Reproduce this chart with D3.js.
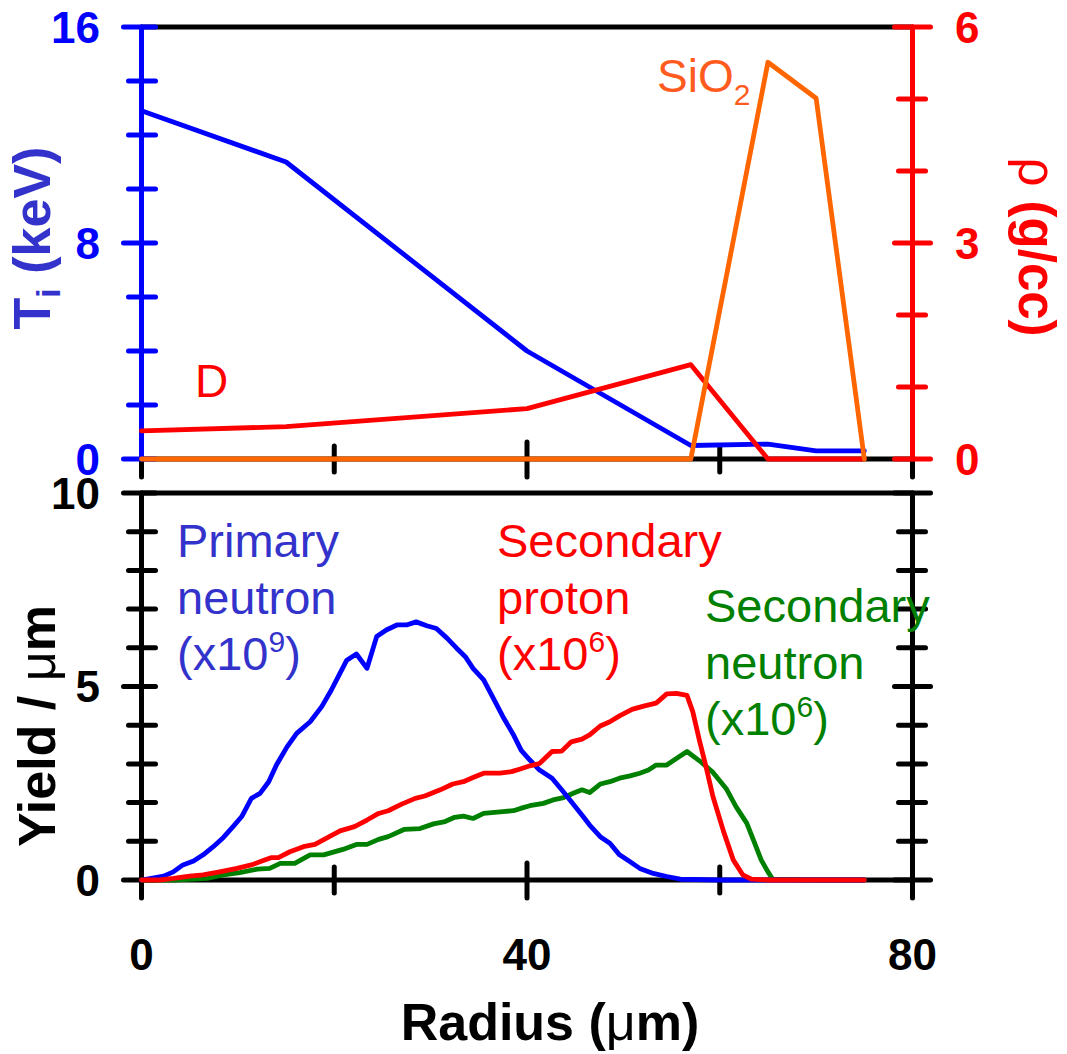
<!DOCTYPE html>
<html>
<head>
<meta charset="utf-8">
<script src="https://cdn.jsdelivr.net/npm/d3@7"></script>
<style>
  html, body { margin: 0; padding: 0; background: #fff; }
  svg { display: block; font-family: "Liberation Sans", Arial, sans-serif; }
</style>
</head>
<body>
<svg id="chart" width="1067" height="1054"></svg>
<script>
// ---------------- DATA ----------------
// Top panel: ion temperature (keV) and density (g/cc)
const tiRadius   = [0, 15, 40, 57, 65, 70, 75];
const tiValues   = [12.9, 11.0, 4.0, 0.5, 0.55, 0.3, 0.3];
const dRadius    = [0, 15, 40, 57, 65, 75];
const dDensity   = [0.39, 0.45, 0.70, 1.31, 0, 0];
const sio2Radius = [0, 57, 65, 70, 75];
const sio2Density= [0, 0, 5.51, 5.01, 0];

// Bottom panel: yields per micron
const primaryRadius = [0, 2.3, 3.3, 4.3, 5.4, 6.4, 7.45, 8.5, 9.5, 10.4, 11.4, 12.3, 13.2, 14.0, 15.1, 16.1, 17.5, 18.7, 19.7, 20.4, 21.3, 22.3, 23.4, 24.4, 25.4, 26.5, 27.5, 28.5, 29.6, 30.6, 31.7, 32.7, 33.6, 34.4, 35.5, 36.5, 37.5, 38.6, 39.4, 40.3, 41.3, 42.6, 43.6, 44.6, 45.7, 46.5, 47.6, 48.6, 49.6, 50.7, 51.7, 53.1, 54.5, 55.9, 60, 65, 70, 75];
const primaryYield  = [0, 0.1, 0.21, 0.39, 0.49, 0.65, 0.86, 1.10, 1.38, 1.64, 2.11, 2.24, 2.54, 2.97, 3.44, 3.79, 4.09, 4.48, 4.91, 5.25, 5.68, 5.84, 5.47, 6.29, 6.46, 6.59, 6.59, 6.67, 6.57, 6.50, 6.25, 5.99, 5.77, 5.47, 5.17, 4.70, 4.22, 3.75, 3.35, 3.10, 2.84, 2.63, 2.33, 2.02, 1.68, 1.42, 1.12, 0.95, 0.65, 0.47, 0.30, 0.17, 0.09, 0.02, 0, 0, 0, 0];

const protonRadius = [0, 1.9, 3.3, 5.0, 6.4, 8.1, 9.9, 11.4, 12.5, 13.5, 14.2, 15.4, 16.8, 18.0, 19.2, 20.6, 22.1, 23.4, 24.6, 25.6, 27.0, 28.4, 29.4, 31.0, 32.3, 33.4, 34.4, 35.5, 37.2, 38.4, 39.3, 40.3, 41.3, 42.6, 43.6, 44.6, 45.7, 46.5, 47.6, 48.6, 49.6, 50.9, 52.2, 53.4, 54.5, 55.5, 56.6, 57.2, 57.9, 58.6, 59.3, 60.4, 61.4, 62.4, 63.3, 65, 70, 75];
const protonYield  = [0, 0, 0.04, 0.10, 0.13, 0.21, 0.30, 0.39, 0.49, 0.58, 0.58, 0.73, 0.86, 0.92, 1.08, 1.27, 1.38, 1.55, 1.72, 1.79, 1.96, 2.11, 2.17, 2.33, 2.48, 2.54, 2.65, 2.76, 2.76, 2.80, 2.87, 2.95, 3.01, 3.32, 3.33, 3.57, 3.64, 3.75, 3.98, 4.09, 4.24, 4.41, 4.50, 4.57, 4.81, 4.82, 4.77, 4.35, 3.60, 2.90, 2.15, 1.25, 0.52, 0.13, 0.02, 0, 0, 0];

const sneutronRadius = [0, 3.3, 6.8, 8.5, 10.2, 12.0, 13.3, 14.4, 15.9, 17.5, 18.9, 20.9, 22.3, 23.4, 24.6, 25.6, 27.3, 28.9, 30.3, 31.5, 32.5, 33.4, 34.4, 35.5, 37.2, 38.6, 39.6, 40.3, 41.7, 42.7, 43.8, 44.8, 45.7, 46.5, 47.6, 48.6, 49.6, 50.7, 51.7, 52.6, 53.4, 54.5, 55.5, 56.6, 57.9, 59.3, 60.7, 61.7, 62.8, 63.5, 64.3, 65.0, 65.5, 70, 75];
const sneutronYield  = [0, 0, 0.04, 0.13, 0.19, 0.28, 0.30, 0.43, 0.43, 0.65, 0.65, 0.79, 0.92, 0.92, 1.05, 1.12, 1.31, 1.33, 1.45, 1.51, 1.62, 1.65, 1.59, 1.72, 1.76, 1.79, 1.87, 1.92, 1.98, 2.07, 2.13, 2.24, 2.33, 2.26, 2.48, 2.54, 2.63, 2.69, 2.76, 2.84, 2.97, 2.97, 3.14, 3.32, 3.08, 2.78, 2.35, 1.89, 1.47, 1.03, 0.52, 0.21, 0.02, 0, 0];

// Ticks and labels
const xTicks      = [0, 20, 40, 60, 80];
const xTickLabels = [0, 40, 80];
const tiTicks     = [0, 2, 4, 6, 8, 10, 12, 14, 16];
const tiTickLabels= [0, 8, 16];
const rhoTicks    = [0, 1, 2, 3, 4, 5, 6];
const rhoTickLabels = [0, 3, 6];
const yieldTicks  = [0, 1, 2, 3, 4, 5, 6, 7, 8, 9, 10];
const yieldTickLabels = [0, 5, 10];

// ---------------- DRAW ----------------
const svg = d3.select("#chart");
const BLUE = "#0000ff", RED = "#ff0000", ORANGE = "#ff6600", GREEN = "#008000";
const TXTBLUE = "#3333cc";

const x   = d3.scaleLinear().domain([0, 80]).range([141.5, 912.5]);
const yT  = d3.scaleLinear().domain([0, 16]).range([459, 27]);
const yR  = d3.scaleLinear().domain([0, 6]).range([459, 27]);
const yB  = d3.scaleLinear().domain([0, 10]).range([880, 493]);

const AXW = 5;

function hline(g, x1, x2, y, c) {
  g.append("line").attr("x1", x1).attr("x2", x2).attr("y1", y).attr("y2", y)
    .attr("stroke", c).attr("stroke-width", AXW).attr("stroke-linecap", "round");
}
function vline(g, x0, y1, y2, c) {
  g.append("line").attr("x1", x0).attr("x2", x0).attr("y1", y1).attr("y2", y2)
    .attr("stroke", c).attr("stroke-width", AXW).attr("stroke-linecap", "round");
}

function xTickMarks(g, y0) {
  xTicks.forEach(t => {
    const major = xTickLabels.includes(t);
    const up = major ? 17 : 13, dn = major ? 18 : 13;
    vline(g, x(t), y0 - up, y0 + dn, "#000");
  });
}
function yTickMarks(g, scale, ticks, labels, x0, side, color) {
  ticks.forEach(t => {
    const major = labels.includes(t);
    const a = major ? 18 : 13, b = 14;
    const yy = scale(t);
    if (side === "left") hline(g, x0 - a, x0 + b, yy, color);
    else hline(g, x0 - b - (major ? 4 : 0), x0 + a, yy, color);
  });
}

const gAx = svg.append("g");

// ---- Top panel frame ----
hline(gAx, x(0), x(80), yT(16), "#000");
hline(gAx, x(0), x(80), yT(0), "#000");
xTickMarks(gAx, yT(0));
vline(gAx, x(0), yT(16), yT(0), BLUE);
yTickMarks(gAx, yT, tiTicks, tiTickLabels, x(0), "left", BLUE);
vline(gAx, x(80), yR(6), yR(0), RED);
yTickMarks(gAx, yR, rhoTicks, rhoTickLabels, x(80), "right", RED);

// ---- Bottom panel frame ----
hline(gAx, x(0), x(80), yB(10), "#000");
hline(gAx, x(0), x(80), yB(0), "#000");
xTickMarks(gAx, yB(0));
vline(gAx, x(0), yB(10), yB(0), "#000");
yTickMarks(gAx, yB, yieldTicks, yieldTickLabels, x(0), "left", "#000");
vline(gAx, x(80), yB(10), yB(0), "#000");
yTickMarks(gAx, yB, yieldTicks, yieldTickLabels, x(80), "right", "#000");

// ---- Tick labels ----
const gTxt = svg.append("g").attr("font-weight", "bold").attr("font-size", 44);
tiTickLabels.forEach(t => gTxt.append("text").attr("x", 100).attr("y", yT(t)).attr("dy", "0.36em")
  .attr("text-anchor", "end").attr("fill", BLUE).text(t));
rhoTickLabels.forEach(t => gTxt.append("text").attr("x", 955).attr("y", yR(t)).attr("dy", "0.36em")
  .attr("text-anchor", "start").attr("fill", RED).text(t));
yieldTickLabels.forEach(t => gTxt.append("text").attr("x", 100).attr("y", yB(t)).attr("dy", "0.36em")
  .attr("text-anchor", "end").attr("fill", "#000").text(t));
xTickLabels.forEach(t => gTxt.append("text").attr("x", x(t)).attr("y", 970)
  .attr("text-anchor", "middle").attr("fill", "#000").text(t));

// ---- Axis titles ----
const tiLab = svg.append("text").attr("transform", "translate(50,238) rotate(-90)")
  .attr("text-anchor", "middle").attr("font-size", 52).attr("font-weight", "bold").attr("fill", TXTBLUE);
tiLab.append("tspan").text("T");
tiLab.append("tspan").attr("font-size", 34).attr("dy", 10).text("i");
tiLab.append("tspan").attr("dy", -10).text(" (keV)");

const rhoLab = svg.append("text").attr("transform", "translate(1019,247) rotate(90)")
  .attr("text-anchor", "middle").attr("font-size", 51).attr("font-weight", "bold").attr("fill", RED);
rhoLab.append("tspan").attr("font-weight", "normal").text("ρ");
rhoLab.append("tspan").text(" (g/cc)");

const yLab = svg.append("text").attr("transform", "translate(55,726) rotate(-90)")
  .attr("text-anchor", "middle").attr("font-size", 52).attr("font-weight", "bold").attr("fill", "#000");
yLab.append("tspan").text("Yield / ");
yLab.append("tspan").attr("font-weight", "normal").text("μ");
yLab.append("tspan").text("m");

const xLab = svg.append("text").attr("x", 550).attr("y", 1040)
  .attr("text-anchor", "middle").attr("font-size", 52).attr("font-weight", "bold").attr("fill", "#000");
xLab.append("tspan").text("Radius (");
xLab.append("tspan").attr("font-weight", "normal").text("μ");
xLab.append("tspan").text("m)");

// ---- Data lines ----
const lineT = (xs, ys, sc) => d3.line().x((d, i) => x(xs[i])).y((d, i) => sc(ys[i]))(ys);
function drawLine(xs, ys, sc, color) {
  svg.append("path").attr("d", lineT(xs, ys, sc)).attr("fill", "none")
    .attr("stroke", color).attr("stroke-width", 4.8).attr("stroke-linejoin", "round").attr("stroke-linecap", "round");
}
drawLine(tiRadius, tiValues, yT, BLUE);
drawLine(dRadius, dDensity, yR, RED);
drawLine(sio2Radius, sio2Density, yR, ORANGE);

drawLine(sneutronRadius, sneutronYield, yB, GREEN);
drawLine(primaryRadius, primaryYield, yB, BLUE);
drawLine(protonRadius, protonYield, yB, RED);

// ---- Annotations ----
const ann = svg.append("g").attr("font-size", 47);
ann.append("text").attr("x", 195).attr("y", 397).attr("fill", RED).attr("font-size", 46).text("D");
const sio = ann.append("text").attr("x", 657).attr("y", 92).attr("fill", "#ff5b1f").attr("font-size", 46);
sio.append("tspan").text("SiO");
sio.append("tspan").attr("font-size", 30).attr("dy", 13).text("2");

function multi(x0, y0, color, lines, sup) {
  const t = ann.append("text").attr("fill", color);
  lines.forEach((s, i) => t.append("tspan").attr("x", x0).attr("y", y0 + i * 56.5).text(s));
  t.append("tspan").attr("x", x0).attr("y", y0 + lines.length * 56.5).text("(x10");
  t.append("tspan").attr("font-size", 30).attr("dy", -18).text(sup);
  t.append("tspan").attr("dy", 18).text(")");
}
multi(177, 557, TXTBLUE, ["Primary", "neutron"], "9");
multi(497, 557, RED, ["Secondary", "proton"], "6");
multi(705, 622, GREEN, ["Secondary", "neutron"], "6");
</script>
</body>
</html>
